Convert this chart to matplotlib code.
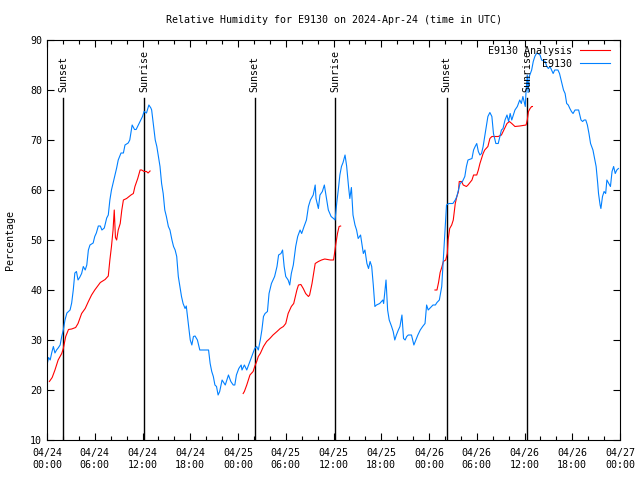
import numpy as np
import matplotlib
matplotlib.use('Agg')
import matplotlib.pyplot as plt

plt.rcParams['font.family'] = 'DejaVu Sans Mono'
plt.rcParams['font.size'] = 7.2

# hours since 2024-04-24 00:00 UTC
obs_h = [0.0, 0.2, 0.4, 0.6, 0.8, 1.0, 1.2, 1.4, 1.65, 1.85, 2.05, 2.26, 2.5, 2.9, 3.1, 3.3, 3.5, 3.7, 3.9, 4.1,
         4.35, 4.56, 4.8, 5.0, 5.2, 5.4, 5.8, 6.0, 6.2, 6.45, 6.7, 6.9, 7.2, 7.5, 7.7, 7.9, 8.1, 8.35, 8.55, 8.75,
         8.95, 9.3, 9.6, 9.8, 10.2, 10.4, 10.7, 11.0, 11.2, 11.7, 12.0, 12.2, 12.5, 12.8, 13.05, 13.15, 13.35, 13.6, 13.8, 14.0,
         14.2, 14.4, 14.6, 14.8, 15.0, 15.25, 15.45, 15.7, 15.9, 16.1, 16.3, 16.5, 16.7, 16.9, 17.1, 17.35, 17.5, 17.7, 17.85, 18.0,
         18.2, 18.4, 18.6, 18.9, 19.1, 19.2, 20.3, 20.5, 20.7, 20.9, 21.1, 21.3, 21.5, 21.7, 22.0, 22.4, 22.8, 23.1, 23.4, 23.6,
         23.8, 24.1, 24.4, 24.5, 24.8, 25.1, 25.5, 25.8, 26.1, 26.35, 26.55, 26.8, 27.0, 27.2, 27.4, 27.7, 27.9, 28.2, 28.6, 28.9,
         29.1, 29.4, 29.6, 29.8, 30.0, 30.3, 30.5, 30.7, 30.95, 31.25, 31.5, 31.8, 32.0, 32.3, 32.6, 32.85, 33.1, 33.45, 33.7, 33.8,
         34.1, 34.3, 34.6, 34.85, 35.05, 35.35, 35.7, 36.0, 36.2, 36.4, 36.6, 36.8, 37.0, 37.2, 37.45, 37.65, 37.9, 38.05, 38.25, 38.45,
         38.7, 38.9, 39.1, 39.4, 39.75, 39.95, 40.2, 40.4, 40.6, 40.8, 41.0, 41.2, 41.4, 41.8, 42.2, 42.3, 42.6, 42.8, 43.0, 43.3,
         43.5, 43.7, 43.9, 44.15, 44.35, 44.6, 44.8, 45.0, 45.2, 45.4, 45.8, 46.1, 46.35, 46.6, 46.9, 47.2, 47.5, 47.7, 47.9, 48.2,
         48.5, 48.8, 49.0, 49.3, 49.6, 49.75, 49.9, 50.05, 50.2, 50.5, 51.0, 51.3, 51.5, 51.7, 51.9, 52.2, 52.5, 52.7, 52.9, 53.4,
         53.6, 53.8, 54.0, 54.2, 54.4, 54.6, 54.8, 55.0, 55.2, 55.4, 55.65, 55.9, 56.1, 56.4, 56.7, 56.9, 57.1, 57.3, 57.55, 57.8,
         58.0, 58.2, 58.4, 58.6, 58.8, 59.1, 59.4, 59.6, 59.8, 60.1, 60.2, 60.35, 60.45, 60.6, 60.9, 61.1, 61.3, 61.5, 61.7, 61.95,
         62.15, 62.6, 62.8, 63.0, 63.2, 63.4, 63.6, 63.8, 64.2, 64.4, 64.7, 64.9, 65.1, 65.3, 65.5, 65.7, 65.9, 66.1, 66.35, 66.8,
         66.9, 67.1, 67.3, 67.5, 67.7, 67.9, 68.1, 68.3, 68.6, 68.8, 69.0, 69.2, 69.3, 69.5, 69.6, 69.8, 70.0, 70.2, 70.35, 70.6,
         70.8, 71.0, 71.2, 71.4, 71.6, 71.8]
obs_rh = [25.0, 26.5, 26.0, 27.5, 28.7, 27.4, 28.0, 28.4, 29.0, 30.7, 32.0, 34.0, 35.4, 36.0, 37.4, 40.0, 43.4, 43.7, 42.0, 42.5,
          43.3, 44.7, 44.0, 45.0, 48.0, 49.0, 49.4, 50.7, 51.4, 52.8, 52.8, 52.0, 52.4, 54.4, 55.0, 58.0, 60.0, 61.7, 63.0, 64.4,
          66.0, 67.4, 67.4, 69.0, 69.4, 70.0, 73.0, 72.1, 72.1, 73.7, 74.7, 75.7, 75.4, 77.0, 76.4, 76.0, 73.4, 70.0, 68.7, 66.7,
          64.7, 61.3, 59.3, 56.0, 54.7, 52.7, 52.0, 50.0, 48.7, 48.0, 46.7, 42.7, 40.7, 38.7, 37.3, 36.3, 36.8, 34.0, 32.0, 30.0,
          29.0, 30.7, 30.8, 30.0, 28.7, 28.0, 28.0, 25.3, 23.7, 22.7, 21.0, 20.7, 19.0, 19.7, 22.0, 21.0, 23.0, 21.7, 21.0, 21.0,
          23.0, 24.3, 25.0, 24.0, 25.0, 24.0, 25.7, 27.0, 28.3, 28.7, 28.0, 30.0, 32.0, 34.7, 35.3, 35.7, 39.3, 41.3, 42.7, 44.7,
          47.0, 47.3, 48.0, 44.7, 42.7, 42.0, 41.0, 43.3, 45.0, 48.7, 50.7, 52.0, 51.3, 52.7, 54.0, 56.7, 58.0, 59.0, 61.0, 58.3,
          56.3, 59.0, 59.7, 61.0, 59.0, 56.0, 54.7, 54.3, 54.0, 57.3, 60.0, 63.0, 64.7, 65.5, 67.0, 64.8, 60.5, 58.3, 60.5, 55.0,
          53.0, 52.0, 50.3, 51.0, 47.3, 48.0, 45.3, 44.3, 45.7, 44.7, 41.0, 36.7, 37.0, 37.3, 38.0, 37.3, 42.0, 36.0, 34.0, 32.7,
          31.7, 30.0, 31.0, 32.0, 32.7, 35.0, 30.3, 30.0, 30.7, 31.0, 31.0, 29.0, 30.0, 31.0, 32.0, 32.7, 33.3, 37.0, 36.0, 36.5,
          37.0, 37.0, 37.5, 38.0, 40.7, 44.7, 48.7, 53.0, 57.0, 57.3, 57.3, 58.0, 58.7, 60.0, 61.3, 61.7, 62.7, 64.7, 66.0, 66.3,
          68.0, 68.7, 69.3, 67.7, 67.0, 67.3, 68.7, 70.7, 72.7, 74.7, 75.5, 74.7, 71.3, 69.3, 69.3, 70.7, 72.0, 72.3, 74.0, 75.0,
          73.7, 75.3, 74.0, 75.0, 76.0, 76.7, 78.0, 77.3, 78.7, 76.7, 80.0, 83.0, 79.5, 82.7, 84.0, 85.7, 86.7, 87.3, 87.3, 87.0,
          86.0, 85.7, 84.7, 84.3, 84.7, 84.0, 83.3, 84.0, 84.0, 83.3, 81.3, 80.0, 79.3, 77.3, 77.0, 76.3, 75.7, 75.3, 76.0, 76.0,
          75.3, 74.0, 73.7, 74.0, 74.0, 73.0, 71.3, 69.3, 68.0, 66.3, 64.7, 61.3, 59.3, 57.0, 56.3, 58.7, 59.7, 59.3, 62.0, 61.3,
          60.7, 63.7, 64.7, 63.3, 64.0, 64.3]

ana_h = [0.3, 0.65, 1.0, 1.4, 1.85, 2.05, 2.35, 2.7, 3.1, 3.6, 3.9, 4.35, 4.8, 5.2, 5.6, 6.0, 6.7, 7.3, 7.7, 7.9,
         8.1, 8.3, 8.45, 8.6, 8.75, 8.95, 9.2, 9.4, 9.6, 10.0, 10.55, 10.85, 11.05, 11.4, 11.7, 11.9, 12.2, 12.5, 12.7, 12.95,
         13.0,
         24.65, 24.8, 25.1, 25.3, 25.5, 25.9, 26.1, 26.35, 26.55, 26.8, 27.0, 27.2, 27.6, 28.0, 28.4, 28.9, 29.3, 29.7, 30.0,
         30.3, 30.7, 31.0, 31.2, 31.4, 31.6, 31.9, 32.2, 32.5, 32.85, 33.0, 33.3, 33.5, 33.7, 34.1, 34.5, 34.9, 35.6, 36.0, 36.1,
         36.3, 36.5, 36.7, 36.9,
         37.0,
         48.75, 49.0, 49.2, 49.4, 49.6, 49.8, 50.1, 50.3, 50.4, 50.6, 50.85, 51.05, 51.3, 51.5, 51.7, 51.8, 52.1, 52.3, 52.7, 52.9,
         53.4, 53.6, 54.0, 54.2, 54.4, 54.6, 54.8, 55.0, 55.4, 55.65, 55.9, 56.7, 57.1, 57.4, 57.8, 58.1, 58.4, 58.8, 59.4, 60.2,
         60.35, 60.5, 60.7, 60.9, 61.0]
ana_rh = [21.7, 22.5, 24.0, 26.0, 27.3, 28.3, 30.7, 32.1, 32.2, 32.5, 33.3, 35.3, 36.3, 37.7, 39.0, 40.0, 41.5, 42.1, 42.8, 46.0,
          48.7, 52.0, 56.0, 50.5, 50.0, 52.0, 53.3, 56.0, 58.0, 58.3, 59.0, 59.3, 60.7, 62.3, 64.0, 64.0, 63.7, 63.7, 63.4, 63.8,
          np.nan,
          19.3, 19.7, 21.0, 22.0, 23.0, 23.7, 24.7, 25.7, 26.7, 27.3, 28.0, 28.7, 29.7, 30.3, 31.0, 31.7, 32.3, 32.7, 33.3,
          35.3, 36.7, 37.3, 38.7, 40.0, 41.0, 41.1, 40.3, 39.3, 38.7, 39.0, 41.3, 43.3, 45.3, 45.7, 46.0, 46.2, 46.0, 46.0, 47.0,
          49.3, 51.3, 52.7, 52.8,
          np.nan,
          40.0, 40.0, 41.5, 43.5, 44.5, 45.7, 46.0, 47.3, 50.0, 52.3, 53.0, 54.0, 57.3, 58.7, 59.7, 61.7, 61.7, 61.0, 60.7, 61.0,
          62.0, 63.0, 63.0, 64.0, 65.3, 66.3, 67.3, 68.0, 68.7, 70.3, 70.7, 70.7, 71.0, 72.0, 73.3, 73.7, 73.3, 72.7, 72.8, 73.0,
          74.0, 75.7, 76.3, 76.7, 76.7]

sun_h = [2.0, 12.2, 26.1, 36.2, 50.2, 60.3]
sun_lbl = ['Sunset', 'Sunrise', 'Sunset', 'Sunrise', 'Sunset', 'Sunrise']

tick_h = list(range(0, 73, 6))
tick_lbl = ['04/24\n00:00', '04/24\n06:00', '04/24\n12:00', '04/24\n18:00',
            '04/25\n00:00', '04/25\n06:00', '04/25\n12:00', '04/25\n18:00',
            '04/26\n00:00', '04/26\n06:00', '04/26\n12:00', '04/26\n18:00',
            '04/27\n00:00']

fig = plt.figure(figsize=(6.4, 4.8), dpi=100)
ax = fig.add_axes([47 / 640, 40 / 480, 573 / 640, 400 / 480])

for h, lbl in zip(sun_h, sun_lbl):
    ax.plot([h, h], [10, 78.4], color='black', lw=1.0)
    ax.text(h, 79.6, lbl, rotation=90, ha='center', va='bottom')

ax.plot(ana_h, ana_rh, color='#ff0000', lw=0.8, label='E9130 Analysis')
ax.plot(obs_h, obs_rh, color='#0080ff', lw=0.8, label='E9130')

ax.set_xlim(0, 72)
ax.set_ylim(10, 90)
ax.set_xticks(tick_h)
ax.set_xticklabels(tick_lbl)
ax.set_xticks(range(0, 73, 2), minor=True)
ax.set_yticks(range(10, 91, 10))
ax.tick_params(direction='in', top=True, right=True, length=5, width=0.8)
ax.tick_params(axis='x', pad=6)
ax.tick_params(which='minor', direction='in', top=True, length=3, width=0.8)
ax.set_ylabel('Percentage', labelpad=11)
ax.set_title('Relative Humidity for E9130 on 2024-Apr-24 (time in UTC)', fontsize=7.2, pad=12)

for s in ax.spines.values():
    s.set_linewidth(0.8)

ax.legend(loc='upper right', bbox_to_anchor=(0.99, 0.995), frameon=False, markerfirst=False,
          handlelength=3.0, borderaxespad=0, labelspacing=0.3)

fig.savefig('out.png', dpi=100)
